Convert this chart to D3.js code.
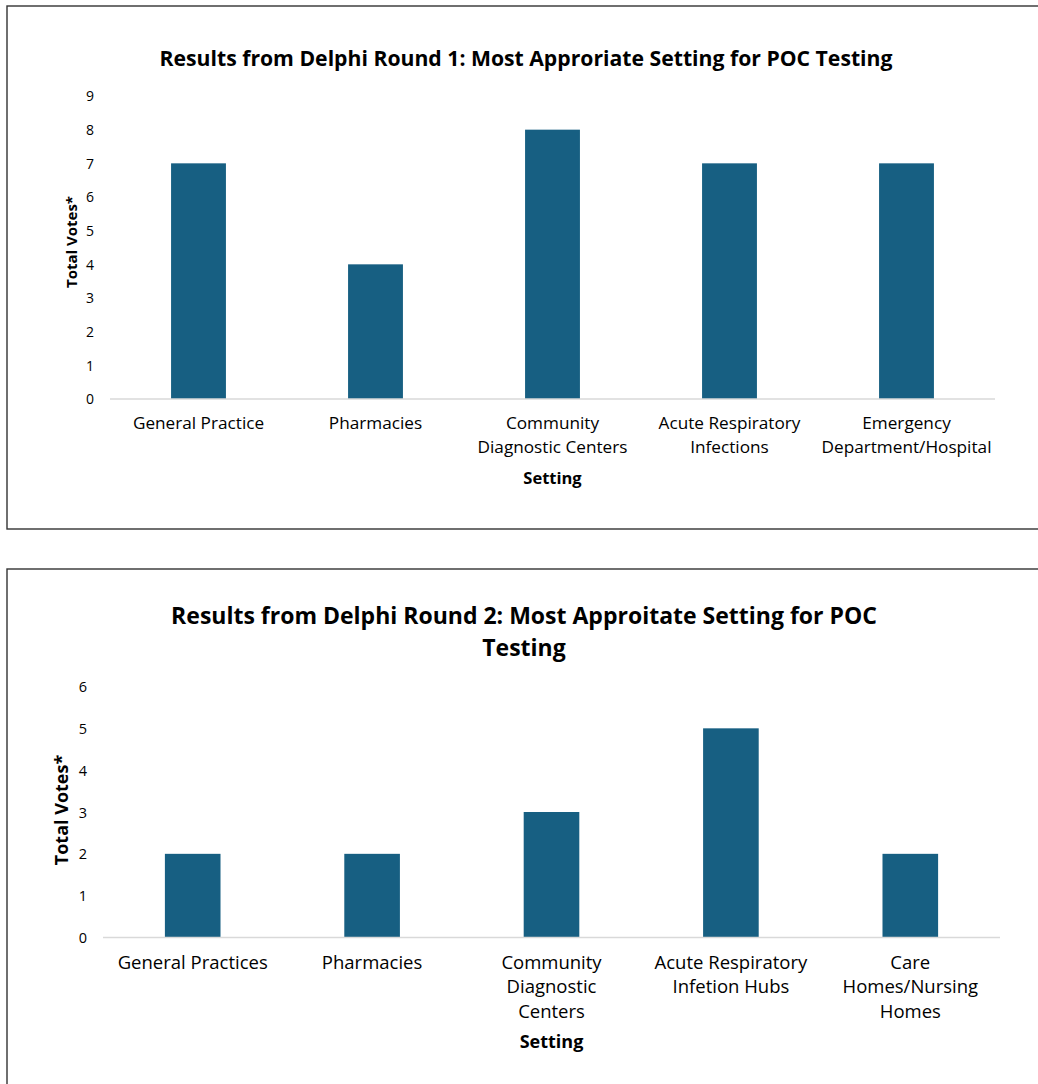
<!DOCTYPE html>
<html><head><meta charset="utf-8">
<script src="https://cdn.jsdelivr.net/npm/d3@7"></script>
<style>
html,body{margin:0;padding:0;background:#fff;}
svg text{font-family:"Open Sans","Noto Sans",sans-serif;fill:#000;}
</style></head>
<body>
<svg id="c" width="1038" height="1084"></svg>
<script>
const categories1 = ["General Practice", "Pharmacies", "Community\nDiagnostic Centers", "Acute Respiratory\nInfections", "Emergency\nDepartment/Hospital"];
const values1 = [7, 4, 8, 7, 7];
const ticks1 = [0,1,2,3,4,5,6,7,8,9];
const title1 = ["Results from Delphi Round 1: Most Approriate Setting for POC Testing"];

const categories2 = ["General Practices", "Pharmacies", "Community\nDiagnostic\nCenters", "Acute Respiratory\nInfetion Hubs", "Care\nHomes/Nursing\nHomes"];
const values2 = [2, 2, 3, 5, 2];
const ticks2 = [0,1,2,3,4,5,6];
const title2 = ["Results from Delphi Round 2: Most Approitate Setting for POC", "Testing"];

const svg = d3.select("#c");
const barColor = "#175f82";

function chart(cfg){
  const g = svg.append("g");
  g.append("rect").attr("x", cfg.box[0]).attr("y", cfg.box[1]).attr("width", cfg.box[2]).attr("height", cfg.box[3])
    .attr("fill","none").attr("stroke","#333").attr("stroke-width",1.4);
  const x = d3.scaleBand().domain(cfg.cats).range([cfg.x0, cfg.x1]).paddingInner(cfg.pad).paddingOuter(cfg.pad/2);
  const y = d3.scaleLinear().domain([0, d3.max(cfg.ticks)]).range([cfg.y0, cfg.yTop]);
  const t = g.append("text").attr("x", cfg.titleX).attr("y", cfg.titleY).attr("text-anchor","middle")
    .style("font-weight","700").style("font-size", cfg.titleSize+"px");
  cfg.title.forEach((l,i)=> t.append("tspan").attr("x", cfg.titleX).attr("dy", i===0?0:cfg.titleLH).text(l));
  const ya = d3.axisLeft(y).tickValues(cfg.ticks).tickSize(0).tickPadding(0).tickFormat(d3.format("d"));
  const yg = g.append("g").attr("transform", `translate(${cfg.tickX},0)`).call(ya);
  yg.select(".domain").remove();
  yg.selectAll("text").style("font-size",cfg.tickSize+"px").attr("text-anchor","middle").attr("dy","0.35em").attr("fill","#000");
  g.selectAll("rect.bar").data(cfg.vals).join("rect").attr("class","bar")
    .attr("x",(d,i)=>x(cfg.cats[i])).attr("width", x.bandwidth())
    .attr("y", d=>y(d)).attr("height", d=>y(0)-y(d)).attr("fill", barColor);
  g.append("line").attr("x1",cfg.x0).attr("x2",cfg.x1).attr("y1",y(0)).attr("y2",y(0)).attr("stroke","#d9d9d9").attr("stroke-width",1.3);
  const xa = d3.axisBottom(x).tickSize(0).tickPadding(0).tickFormat(()=>"");
  const xg = g.append("g").attr("transform",`translate(0,${y(0)})`).call(xa);
  xg.select(".domain").remove();
  xg.selectAll(".tick").each(function(d){
    const tx = d3.select(this).append("text").attr("text-anchor","middle").attr("y", cfg.labelDy)
      .style("font-size", cfg.labelSize+"px").attr("fill","#000");
    d.split("\n").forEach((l,i)=> tx.append("tspan").attr("x",0).attr("dy", i===0?0:cfg.labelLH).text(l));
  });
  g.append("text").attr("transform",`translate(${cfg.yTitleX},${cfg.yTitleY}) rotate(-90)`).attr("text-anchor","middle")
    .style("font-weight","700").style("font-size", cfg.yTitleSize+"px").text("Total Votes*");
  g.append("text").attr("x",(cfg.x0+cfg.x1)/2).attr("y",cfg.xTitleY).attr("text-anchor","middle")
    .style("font-weight","700").style("font-size", cfg.xTitleSize+"px").text("Setting");
}

chart({box:[7,6,1040,523], cats:categories1, vals:values1, ticks:ticks1, title:title1,
  x0:110, x1:995, pad:0.69, y0:399, yTop:96, titleX:526, titleY:66, titleSize:21.2, titleLH:32,
  tickX:90, tickSize:14, labelDy:30, labelSize:17.2, labelLH:24, yTitleX:77, yTitleY:242, yTitleSize:15,
  xTitleY:484, xTitleSize:16.5});

chart({box:[7,569,1040,530], cats:categories2, vals:values2, ticks:ticks2, title:title2,
  x0:103, x1:1000, pad:0.69, y0:937.5, yTop:686.5, titleX:524, titleY:624, titleSize:23, titleLH:32,
  tickX:83, tickSize:14.5, labelDy:31, labelSize:18.5, labelLH:24.5, yTitleX:68, yTitleY:810, yTitleSize:18,
  xTitleY:1048, xTitleSize:18});
</script>
</body></html>
